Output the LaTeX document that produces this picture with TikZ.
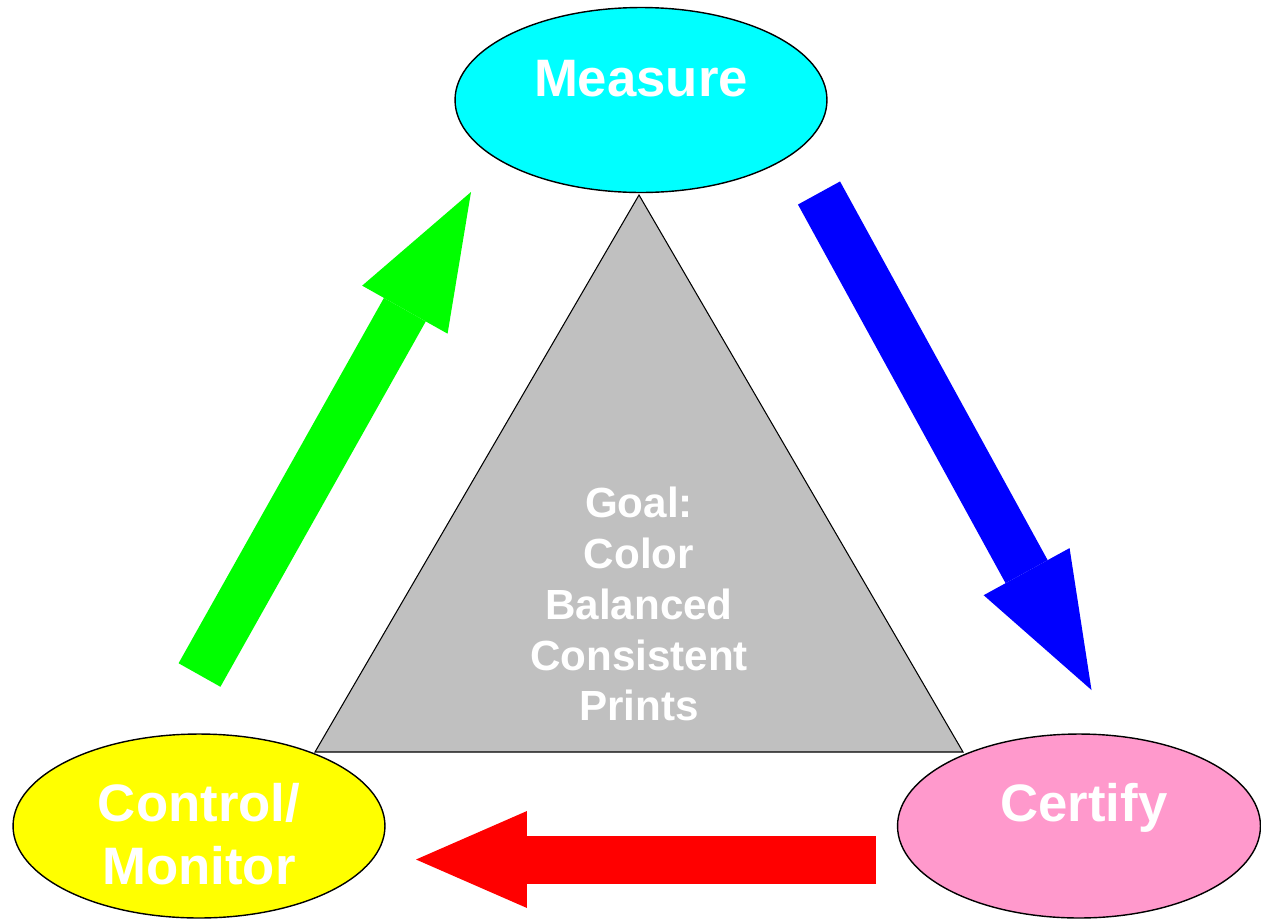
\documentclass[tikz,border=0pt]{standalone}
\usepackage{fontspec}
\setsansfont{Liberation Sans}
\usetikzlibrary{shapes.geometric,arrows.meta}
\definecolor{measurecyan}{RGB}{0,255,255}
\definecolor{controlyellow}{RGB}{255,255,0}
\definecolor{certifypink}{RGB}{255,153,204}
\definecolor{goalgray}{RGB}{192,192,192}
\definecolor{flowblue}{RGB}{0,0,255}
\definecolor{flowred}{RGB}{255,0,0}
\definecolor{flowgreen}{RGB}{0,255,0}
\begin{document}
\begin{tikzpicture}[x=0.02cm, y=-0.02cm,
    stage/.style={ellipse, draw=black, line width=0.8pt, inner sep=0pt,
      minimum width=7.44cm, minimum height=3.7cm},
    stagetext/.style={text=white, inner sep=0pt, align=center,
      font=\sffamily\bfseries\fontsize{30}{36}\selectfont},
    flow/.style={line width=0.96cm,
      -{Triangle[length=2.7cm, width=1.96cm, line width=0pt]}}]
  \useasboundingbox (0,0) rectangle (1261,920);

  \coordinate (apex) at (639,195);
  \coordinate (baseleft) at (315,752);
  \coordinate (baseright) at (963,752);
  \filldraw[fill=goalgray, draw=black, line width=0.6pt]
    (apex) -- (baseleft) -- (baseright) -- cycle;
  \node[text=white, inner sep=0pt, align=center,
    font=\sffamily\bfseries\fontsize{24}{29}\selectfont] (goal) at (639,604)
    {Goal:\\Color\\Balanced\\Consistent\\Prints};

  \node[stage, fill=measurecyan] (measure) at (641,100) {};
  \node[stage, fill=controlyellow, minimum height=3.68cm] (control) at (199,826) {};
  \node[stage, fill=certifypink, minimum width=7.26cm, minimum height=3.68cm]
    (certify) at (1079,826) {};

  \node[stagetext, anchor=base] (measurelabel) at (641,96) {Measure};
  \node[stagetext] (controllabel) at (199,834) {Control/\\Monitor};
  \node[stagetext, anchor=base] (certifylabel) at (1084,821) {Certify};

  \coordinate (bluetail) at (819,193);
  \coordinate (bluetip) at (1091.5,690);
  \coordinate (redtail) at (876,859.5);
  \coordinate (redtip) at (416,859.5);
  \coordinate (greentail) at (199.5,675);
  \coordinate (greentip) at (471,192);

  \draw[flow, flowblue] (bluetail) -- (bluetip);
  \draw[flow, flowred, -{Triangle[length=2.22cm, width=1.94cm, line width=0pt]}]
    (redtail) -- (redtip);
  \draw[flow, flowgreen] (greentail) -- (greentip);
\end{tikzpicture}
\end{document}
